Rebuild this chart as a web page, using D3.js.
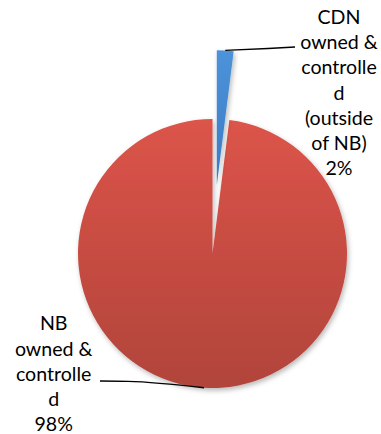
<!DOCTYPE html>
<html>
<head>
<meta charset="utf-8">
<script src="https://cdn.jsdelivr.net/npm/d3@7"></script>
<style>
  html, body { margin: 0; padding: 0; background: #ffffff; }
  svg { display: block; }
</style>
</head>
<body>
<svg id="chart" width="381" height="434"></svg>
<script>
// Ownership split
const categories = ["CDN owned & controlled (outside of NB)", "NB owned & controlled"];
const values = [2, 98];
// Wrapped label text (the percentage line is appended from values)
const labelLines = [
  ["CDN", "owned &", "controlle", "d", "(outside", "of NB)"],
  ["NB", "owned &", "controlle", "d"]
];

const width = 381, height = 434;
const cx = 212.5, cy = 253.5, radius = 134.5;
const explode = [69, 0];

const svg = d3.select("#chart");
const defs = svg.append("defs");

const shadow = defs.append("filter").attr("id", "shadow")
  .attr("x", "-20%").attr("y", "-20%").attr("width", "140%").attr("height", "140%");
shadow.append("feDropShadow")
  .attr("dx", 1.5).attr("dy", 2.5).attr("stdDeviation", 2.5)
  .attr("flood-color", "#000").attr("flood-opacity", 0.28);

const gradColors = [["#4d93da", "#3b7ac3"], ["#dc5449", "#b1443b"]];
gradColors.forEach((c, i) => {
  const g = defs.append("linearGradient").attr("id", "grad" + i)
    .attr("x1", 0).attr("y1", 0).attr("x2", 0).attr("y2", 1);
  g.append("stop").attr("offset", "0%").attr("stop-color", c[0]);
  g.append("stop").attr("offset", "100%").attr("stop-color", c[1]);
});

const pie = d3.pie().sort(null).value(d => d);
const arcs = pie(values);
const arc = d3.arc().innerRadius(0).outerRadius(radius);

const g = svg.append("g").attr("transform", `translate(${cx},${cy})`);

// Offset of each slice along its bisector
function offset(d, i) {
  const a = (d.startAngle + d.endAngle) / 2;
  return [explode[i] * Math.sin(a), -explode[i] * Math.cos(a)];
}

// Draw the large slice first, then the exploded one on top
const drawOrder = [1, 0];
drawOrder.forEach(i => {
  const d = arcs[i];
  const [ox, oy] = offset(d, i);
  g.append("path")
    .attr("d", arc(d))
    .attr("transform", `translate(${ox},${oy})`)
    .attr("fill", `url(#grad${i})`)
    .attr("filter", "url(#shadow)");
});

// Leader line anchors on the outer arc at each bisector
function outerPoint(i) {
  const d = arcs[i];
  const a = (d.startAngle + d.endAngle) / 2;
  const r = radius + explode[i];
  return [cx + r * Math.sin(a), cy - r * Math.cos(a)];
}

const line = d3.line().curve(d3.curveMonotoneX);
const p0 = outerPoint(0);
svg.append("path")
  .attr("d", line([p0, [268, 48.5], [295, 47]]))
  .attr("fill", "none").attr("stroke", "#000").attr("stroke-width", 1.3);
const p1 = outerPoint(1);
svg.append("path")
  .attr("d", line([[100, 381], [128, 381.3], p1]))
  .attr("fill", "none").attr("stroke", "#000").attr("stroke-width", 1.3);

// Labels (first-line baselines)
const labelPos = [[339, 23.9], [53.7, 330.3]];
const lineHeight = 25.2;
labelLines.forEach((lines, i) => {
  const all = lines.concat([values[i] + "%"]);
  const t = svg.append("text")
    .attr("text-anchor", "middle")
    .attr("font-family", "Lato, 'Open Sans', sans-serif")
    .attr("font-size", 19.6)
    .attr("fill", "#000");
  all.forEach((s, k) => {
    t.append("tspan")
      .attr("x", labelPos[i][0])
      .attr("y", labelPos[i][1] + k * lineHeight)
      .text(s);
  });
});
</script>
</body>
</html>
